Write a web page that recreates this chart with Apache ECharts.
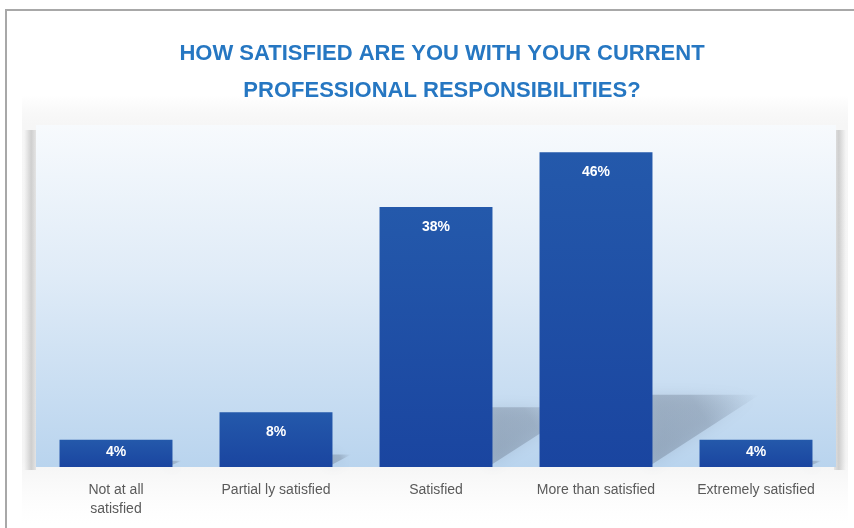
<!DOCTYPE html>
<html>
<head>
<meta charset="utf-8">
<script src="https://cdn.jsdelivr.net/npm/echarts@6/dist/echarts.min.js"></script>
<style>
  html, body { margin: 0; padding: 0; background: #ffffff; }
  #chart { width: 854px; height: 528px; }
</style>
</head>
<body>
<div id="chart"></div>
<script>
// Survey answers and their share of respondents (%)
const categories = ['Not at all\nsatisfied', 'Partial ly satisfied', 'Satisfied', 'More than satisfied', 'Extremely satisfied'];
const shares = [4, 8, 38, 46, 4];
const titleLines = ['HOW SATISFIED ARE YOU WITH YOUR CURRENT', 'PROFESSIONAL RESPONSIBILITIES?'];

const BAR_RATIO = 0.706;

const chart = echarts.init(document.getElementById('chart'), null, { renderer: 'canvas' });

const barData = shares.map(v => ({
  value: v,
  label: { distance: v < 6 ? 6 : 13 }
}));

// cast shadow: a soft wedge falling to the right of each bar
function renderShadow(params, api) {
  const idx = api.value(0);
  const v = api.value(1);
  const base = api.coord([idx, 0]);
  const top = api.coord([idx, v]);
  const h = base[1] - top[1];
  const bw = api.size([1, 0])[0] * BAR_RATIO;
  const xr = base[0] + bw / 2;
  const rise = h * 0.23;
  const run = h * 0.34;
  return {
    type: 'polygon',
    shape: { points: [[xr - 3, base[1] - 1], [xr - 3, base[1] - rise], [xr + run, base[1] - rise]] },
    style: {
      fill: new echarts.graphic.LinearGradient(0, 1, 1, 0, [
        { offset: 0, color: 'rgba(110,125,145,0.42)' },
        { offset: 0.55, color: 'rgba(110,125,145,0.36)' },
        { offset: 1, color: 'rgba(110,125,145,0.0)' }
      ]),
      shadowBlur: 14,
      shadowColor: 'rgba(110,125,145,0.45)'
    }
  };
}

const option = {
  backgroundColor: '#ffffff',
  animation: false,
  title: {
    text: titleLines.join('\n'),
    left: 437,
    top: 30,
    textAlign: 'center',
    textStyle: {
      fontFamily: 'Liberation Sans, Arial, sans-serif',
      fontSize: 22,
      fontWeight: 'bold',
      color: '#2677c2',
      lineHeight: 37
    }
  },
  graphic: [
    // outer frame
    { type: 'rect', z: -10, silent: true,
      shape: { x: 6, y: 10, width: 870, height: 540 },
      style: { fill: '#ffffff', stroke: '#a8a8a8', lineWidth: 2 } },
    // soft panel behind the plot
    { type: 'rect', z: -9, silent: true,
      shape: { x: 22, y: 96, width: 826, height: 428 },
      style: {
        fill: new echarts.graphic.LinearGradient(0, 0, 0, 1, [
          { offset: 0, color: 'rgba(240,240,240,0)' },
          { offset: 0.07, color: '#f6f6f6' },
          { offset: 0.85, color: '#f4f4f4' },
          { offset: 1, color: 'rgba(250,250,250,0)' }
        ])
      } },
    // left edge vignette
    { type: 'rect', z: -8, silent: true,
      shape: { x: 24, y: 130, width: 12, height: 340 },
      style: {
        fill: new echarts.graphic.LinearGradient(0, 0, 1, 0, [
          { offset: 0, color: 'rgba(180,180,180,0)' },
          { offset: 0.6, color: 'rgba(175,175,175,0.55)' },
          { offset: 1, color: 'rgba(175,175,175,0.25)' }
        ])
      } },
    // right edge vignette
    { type: 'rect', z: -8, silent: true,
      shape: { x: 834, y: 130, width: 12, height: 340 },
      style: {
        fill: new echarts.graphic.LinearGradient(0, 0, 1, 0, [
          { offset: 0, color: 'rgba(175,175,175,0.25)' },
          { offset: 0.4, color: 'rgba(175,175,175,0.55)' },
          { offset: 1, color: 'rgba(180,180,180,0)' }
        ])
      } }
  ],
  grid: {
    left: 36, right: 18, top: 125, bottom: 61,
    show: true,
    borderWidth: 0,
    backgroundColor: new echarts.graphic.LinearGradient(0, 0, 0, 1, [
      { offset: 0, color: '#f7fafd' },
      { offset: 0.45, color: '#dfebf7' },
      { offset: 1, color: '#b9d4ee' }
    ])
  },
  xAxis: {
    type: 'category',
    data: categories,
    axisLine: { show: false },
    axisTick: { show: false },
    axisLabel: {
      margin: 14,
      color: '#5a5a5a',
      fontFamily: 'Liberation Sans, Arial, sans-serif',
      fontSize: 14,
      lineHeight: 19,
      interval: 0
    }
  },
  yAxis: {
    type: 'value',
    min: 0,
    max: 50,
    show: false,
    splitLine: { show: false }
  },
  series: [
    {
      type: 'custom',
      z: 1,
      silent: true,
      renderItem: renderShadow,
      encode: { x: 0, y: 1 },
      data: shares.map((v, i) => [i, v])
    },
    {
      type: 'bar',
      z: 2,
      data: barData,
      barCategoryGap: '29.4%',
      itemStyle: {
        color: new echarts.graphic.LinearGradient(0, 0, 0, 1, [
          { offset: 0, color: '#2459ab' },
          { offset: 1, color: '#1a45a0' }
        ])
      },
      label: {
        show: true,
        position: 'insideTop',
        formatter: '{c}%',
        color: '#ffffff',
        fontFamily: 'Liberation Sans, Arial, sans-serif',
        fontWeight: 'bold',
        fontSize: 14
      }
    }
  ]
};

chart.setOption(option);
</script>
</body>
</html>
